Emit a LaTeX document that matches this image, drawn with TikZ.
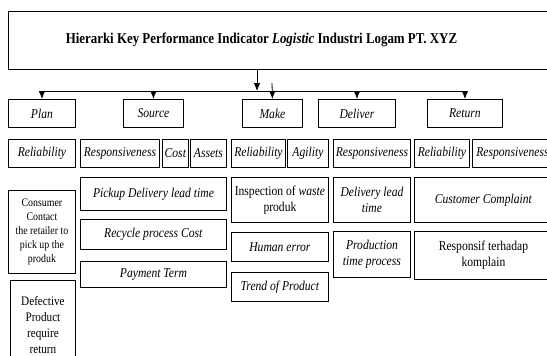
\documentclass[tikz,border=0pt]{standalone}
\usepackage{fontspec}
\setmainfont[FakeStretch=0.86]{Liberation Serif}
\usetikzlibrary{arrows.meta}
\begin{document}
\begin{tikzpicture}[x=1pt,y=-1pt,
  box/.style={draw, line width=0.9pt, inner sep=1pt, align=center, anchor=north west, font=\fontsize{13.5}{16}\selectfont},
  arr/.style={line width=0.8pt, -{Latex[length=8pt,width=6.5pt]}},
  conn/.style={line width=0.8pt}]
\useasboundingbox (0,0) rectangle (547,356);
% title
\node[box, minimum width=543pt, minimum height=58pt] (title) at (8,11) {};
\node[font=\fontsize{15}{18}\selectfont\bfseries] (ttext) at (261.5,40) {Hierarki Key Performance Indicator \textit{Logistic} Industri Logam PT. XYZ};
% level 1
\node[box, minimum width=67pt, minimum height=28pt] (plan) at (8,99) {\textit{Plan}};
\node[box, minimum width=60pt, minimum height=28pt] (source) at (123,99) {\textit{Source}};
\node[box, minimum width=60pt, minimum height=28pt] (make) at (242,99) {\textit{Make}};
\node[box, minimum width=77pt, minimum height=28pt] (deliver) at (318,99) {\textit{Deliver}};
\node[box, minimum width=75pt, minimum height=28pt] (ret) at (427,99) {\textit{Return}};
% connectors
\coordinate (j) at (257,91);
\coordinate (mk) at (272,83);
\draw[arr] (title.south -| j) -- (j);
\draw[conn] (plan.north |- j) -- (ret.north |- j);
\draw[arr] (plan.north |- j) -- (plan.north);
\draw[arr] (source.north |- j) -- (source.north);
\draw[arr] (mk) -- (make.north);
\draw[arr] (deliver.north |- j) -- (deliver.north);
\draw[arr] (ret.north |- j) -- (ret.north);
% level 2
\node[box, minimum width=67pt, minimum height=28pt] (r1) at (8,139) {\textit{Reliability}};
\node[box, minimum width=79pt, minimum height=28pt] (r2) at (80,139) {\textit{Responsiveness}};
\node[box, minimum width=26pt, minimum height=28pt] (r3) at (162,139) {\textit{Cost}};
\node[box, minimum width=36pt, minimum height=28pt] (r4) at (190,139) {\textit{Assets}};
\node[box, minimum width=54pt, minimum height=28pt] (r5) at (231,139) {\textit{Reliability}};
\node[box, minimum width=41pt, minimum height=28pt] (r6) at (287,139) {\textit{Agility}};
\node[box, minimum width=77pt, minimum height=28pt] (r7) at (333,139) {\textit{Responsiveness}};
\node[box, minimum width=55pt, minimum height=28pt] (r8) at (414,139) {\textit{Reliability}};
\node[box, minimum width=80pt, minimum height=28pt] (r9) at (472,139) {\textit{Responsiveness}};
% level 3 plan
\node[box, minimum width=67pt, minimum height=83pt, font=\fontsize{11.5}{14}\selectfont] (p1) at (8,190) {Consumer\\Contact\\the retailer to\\pick up the\\produk};
\node[box, minimum width=65pt, minimum height=90pt, font=\fontsize{13}{16}\selectfont] (p2) at (10,280) {Defective\\Product\\require\\return};
% source
\node[box, minimum width=146pt, minimum height=33pt] (s1) at (80,177) {\textit{Pickup Delivery lead time}};
\node[box, minimum width=146pt, minimum height=30pt] (s2) at (80,219) {\textit{Recycle process Cost}};
\node[box, minimum width=146pt, minimum height=26pt] (s3) at (80,261) {\textit{Payment Term}};
% make
\node[box, minimum width=97pt, minimum height=45pt] (m1) at (231,177) {Inspection of \textit{waste}\\produk};
\node[box, minimum width=97pt, minimum height=29pt] (m2) at (231,232) {\textit{Human error}};
\node[box, minimum width=97pt, minimum height=29pt] (m3) at (231,272) {\textit{Trend of Product}};
% deliver
\node[box, minimum width=77pt, minimum height=45pt] (d1) at (333,177) {\textit{Delivery lead}\\\textit{time}};
\node[box, minimum width=77pt, minimum height=46pt] (d2) at (333,231) {\textit{Production}\\\textit{time process}};
% return
\node[box, minimum width=138pt, minimum height=45pt] (e1) at (414,177) {\textit{Customer Complaint}};
\node[box, minimum width=138pt, minimum height=48pt] (e2) at (414,231) {Responsif terhadap\\komplain};
\end{tikzpicture}
\end{document}
